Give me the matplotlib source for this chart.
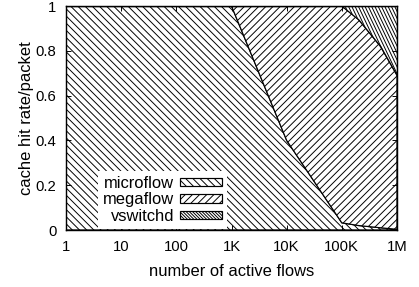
import numpy as np
import matplotlib.pyplot as plt
from matplotlib.patches import Patch
from matplotlib.collections import LineCollection

plt.rcParams['font.family'] = ['Liberation Sans', 'DejaVu Sans']
plt.rcParams['hatch.linewidth'] = 0.8

# number of active flows
flows = [1, 10, 100, 1e3, 1e4, 1e5, 2e5, 5e5, 1e6]
# fraction of packets hitting each cache level
microflow = [1.0, 1.0, 1.0, 1.0, 0.40, 0.032, 0.02, 0.01, 0.003]
megaflow = [0.0, 0.0, 0.0, 0.0, 0.60, 0.968, 0.92, 0.81, 0.687]

xticks = [1, 10, 100, 1e3, 1e4, 1e5, 1e6]
xticklabels = ['1', '10', '100', '1K', '10K', '100K', '1M']
yticks = [0, 0.2, 0.4, 0.6, 0.8, 1]
yticklabels = ['0', '0.2', '0.4', '0.6', '0.8', '1']
series = ['microflow', 'megaflow', 'vswitchd']

micro = np.array(microflow)
mega = micro + np.array(megaflow)

dpi = 86
fig = plt.figure(figsize=(419 / dpi, 287 / dpi), dpi=dpi)
ax = fig.add_axes([66 / 419, 1 - 230 / 287, 331 / 419, 224 / 287])

ax.fill_between(flows, 0, micro, facecolor='white', edgecolor='black',
                hatch='\\' * 4, linewidth=1.0)
ax.fill_between(flows, micro, mega, facecolor='white', edgecolor='black',
                hatch='/' * 4, linewidth=1.0)
vs = ax.fill_between(flows, mega, 1, facecolor='white', edgecolor='black',
                     linewidth=1.0)

# steep hatch for the vswitchd area, drawn as clipped lines in axes space
w_px, h_px = 331.0, 224.0
segs = []
for x0 in np.arange(-150, 331, 3.3):
    segs.append([(x0 / w_px, 1.0), ((x0 + h_px / 2.1) / w_px, 0.0)])
lc = LineCollection(segs, colors='black', linewidths=0.8,
                    transform=ax.transAxes)
ax.add_collection(lc)
lc.set_clip_path(vs.get_paths()[0], ax.transData)

ax.set_xscale('log')
ax.set_xlim(1, 1e6)
ax.set_ylim(0, 1)
ax.set_xticks(xticks)
ax.set_xticklabels(xticklabels)
ax.minorticks_off()
ax.set_yticks(yticks)
ax.set_yticklabels(yticklabels)
ax.tick_params(direction='in', length=4, width=0.8, labelsize=12.5, pad=8,
               top=True, right=True)
for s in ax.spines.values():
    s.set_linewidth(1.2)

ax.set_xlabel('number of active flows', fontsize=13.8, labelpad=9)
ax.set_ylabel('cache hit rate/packet', fontsize=13.8, labelpad=1)

handles = [Patch(facecolor='white', edgecolor='black', hatch='\\' * 4),
           Patch(facecolor='white', edgecolor='black', hatch='/' * 4),
           Patch(facecolor='white', edgecolor='black', hatch='\\' * 9)]
leg = ax.legend(handles, series, loc='lower right',
                bbox_to_anchor=(161 / 331, 1 / 224), markerfirst=False,
                fontsize=13.8, frameon=True, fancybox=False, edgecolor='white',
                framealpha=1, handlelength=2.55, handleheight=0.42,
                labelspacing=0.1, handletextpad=0.36, borderpad=0.3,
                borderaxespad=0)
leg.get_frame().set_linewidth(0)

plt.savefig('out.png', dpi=dpi)
